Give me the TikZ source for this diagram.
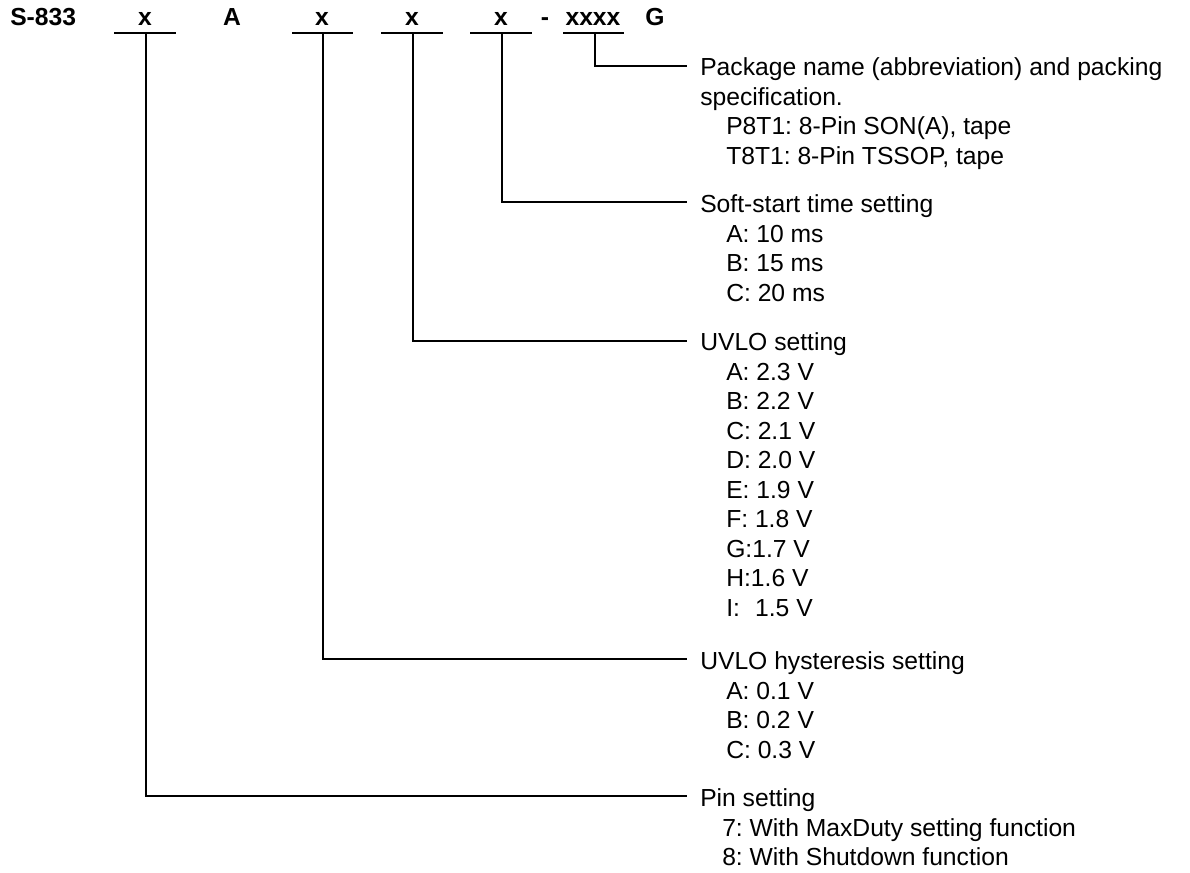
\documentclass[tikz,border=0pt]{standalone}
\usepackage{fontspec}
\setmainfont{Liberation Sans}
\frenchspacing
\newcommand{\itemlines}[1]{\begin{tabular}[t]{@{}l@{}}#1\end{tabular}}
\begin{document}
\begin{tikzpicture}[x=0.75pt,y=-0.75pt,
  hdr/.style={font=\fontsize{18.5}{22.1}\selectfont\bfseries, inner sep=0pt, anchor=base},
  ttl/.style={font=\fontsize{18.5}{22.1}\selectfont, inner sep=0pt, anchor=west, text height=13.25pt, text depth=0pt},
  itm/.style={font=\fontsize{18.5}{22.1}\selectfont, inner sep=0pt, anchor=base west},
  ln/.style={line width=1.5pt}]
\useasboundingbox (0,0) rectangle (1190,873);
% header
\node[hdr, anchor=base west] (s833) at (10,26) {S-833};
\node[hdr] (x1) at (145,26) {x};
\node[hdr] (a1) at (232,26) {A};
\node[hdr] (x2) at (322,26) {x};
\node[hdr] (x3) at (412,26) {x};
\node[hdr] (x4) at (501,26) {x};
\node[hdr] (dash) at (545,26) {-};
\node[hdr] (x5) at (593,26) {xxxx};
\node[hdr] (g1) at (655,26) {G};
% underlines
\coordinate (u1l) at (114,33.3); \coordinate (u1r) at (176,33.3); \coordinate (u1c) at (146,33.3);
\coordinate (u2l) at (292,33.3); \coordinate (u2r) at (353,33.3); \coordinate (u2c) at (323,33.3);
\coordinate (u3l) at (381,33.3); \coordinate (u3r) at (443,33.3); \coordinate (u3c) at (413,33.3);
\coordinate (u4l) at (470,33.3); \coordinate (u4r) at (532,33.3); \coordinate (u4c) at (502,33.3);
\coordinate (u5l) at (563,33.3); \coordinate (u5r) at (624,33.3); \coordinate (u5c) at (595,33.3);
\foreach \i in {1,...,5} {\draw[ln] (u\i l) -- (u\i r);}
% headings and items
\node[ttl] (hpkg) at (700,67) {Package name (abbreviation) and packing};
\node[itm] (hpkg2) at (700,105.5) {specification.};
\node[itm] (ipkg) at (726,135) {\itemlines{P8T1: 8-Pin SON(A), tape\\T8T1: 8-Pin TSSOP, tape}};
\node[ttl] (hsoft) at (700,204) {Soft-start time setting};
\node[itm] (isoft) at (726,242.5) {\itemlines{A: 10 ms\\B: 15 ms\\C: 20 ms}};
\node[ttl] (huvlo) at (700,342) {UVLO setting};
\node[itm] (iuvlo) at (726,380.5) {\itemlines{A: 2.3 V\\B: 2.2 V\\C: 2.1 V\\D: 2.0 V\\E: 1.9 V\\F: 1.8 V\\G:1.7 V\\H:1.6 V\\\makebox[1.17em][l]{I:}1.5 V}};
\node[ttl] (hhys) at (700,661) {UVLO hysteresis setting};
\node[itm] (ihys) at (726,699.5) {\itemlines{A: 0.1 V\\B: 0.2 V\\C: 0.3 V}};
\node[ttl] (hpin) at (700,798) {Pin setting};
\node[itm] (ipin) at (722,836.5) {\itemlines{7: With MaxDuty setting function\\8: With Shutdown function}};
% connector ends
\coordinate (epkg) at (687,66);
\coordinate (esoft) at (687,202);
\coordinate (euvlo) at (687,341);
\coordinate (ehys) at (687,659);
\coordinate (epin) at (687,796);
\draw[ln] (u5c) |- (epkg);
\draw[ln] (u4c) |- (esoft);
\draw[ln] (u3c) |- (euvlo);
\draw[ln] (u2c) |- (ehys);
\draw[ln] (u1c) |- (epin);
\end{tikzpicture}
\end{document}
